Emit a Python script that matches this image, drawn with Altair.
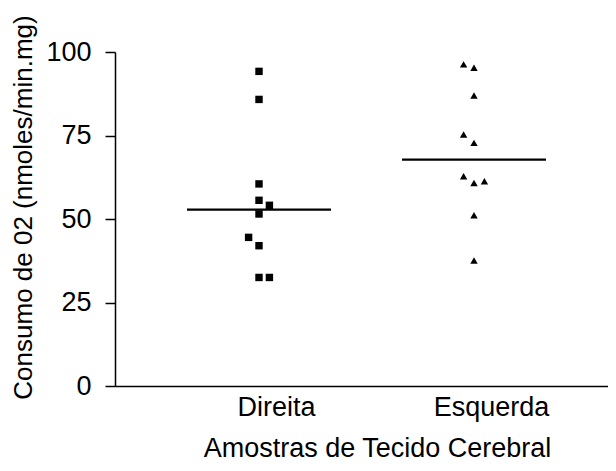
import altair as alt
import pandas as pd

# Data
direita = [94.2, 85.8, 60.5, 55.6, 54.1, 51.5, 44.5, 42.0, 32.5, 32.5]
direita_slot = [0, 0, 0, 0, 1, 0, -1, 0, 0, 1]
esquerda = [96.3, 95.3, 87.0, 75.3, 72.8, 62.8, 60.8, 61.3, 51.1, 37.6]
esquerda_slot = [-1, 0, 0, -1, 0, -1, 0, 1, 0, 0]
grupos = ["Direita", "Esquerda"]
y_ticks = [0, 25, 50, 75, 100]

df = pd.DataFrame({
    "grupo": [grupos[0]] * len(direita) + [grupos[1]] * len(esquerda),
    "valor": direita + esquerda,
    "slot": direita_slot + esquerda_slot,
})

FONT = "Liberation Sans"

x_enc = alt.X(
    "grupo:N",
    sort=grupos,
    scale=alt.Scale(type="point", padding=0.6465, align=0.518),
    axis=alt.Axis(
        title="Amostras de Tecido Cerebral",
        ticks=False,
        tickSize=0,
        labelOffset=17,
        labelPadding=8,
        labelFontSize=27,
        titleFontSize=27,
        titleBaseline="alphabetic",
        titleAlign="center",
        titleX=262,
        titleY=70,
        labelAngle=0,
    ),
)

y_enc = alt.Y(
    "valor:Q",
    scale=alt.Scale(domain=[0, 100], nice=False, zero=True),
    axis=alt.Axis(
        title="Consumo de 02 (nmoles/min.mg)",
        values=y_ticks,
        tickSize=10,
        labelPadding=14,
        labelFontSize=27,
        titleFontSize=26,
        titleAngle=270,
        titleBaseline="alphabetic",
        titleAlign="center",
        titleX=-84,
        titleY=155,
        grid=False,
    ),
)

base = alt.Chart(df)

points = base.mark_point(filled=True, size=55, opacity=1, color="black").encode(
    x=x_enc,
    xOffset=alt.XOffset("slot:Q", scale=alt.Scale(domain=[-1, 1], range=[-10.4, 10.4])),
    y=y_enc,
    shape=alt.Shape(
        "grupo:N",
        scale=alt.Scale(domain=grupos, range=["square", "triangle-up"]),
        legend=None,
    ),
)

medians = base.mark_tick(color="black", thickness=2.2, size=144, opacity=1).encode(
    x=x_enc,
    y=alt.Y("median(valor):Q"),
)

chart = (
    alt.layer(points, medians)
    .properties(
        width=493,
        height=334,
        autosize=alt.AutoSizeParams(type="none"),
        padding={"left": 107, "top": 44, "right": 0, "bottom": 77},
    )
    .configure_view(stroke=None)
    .configure_axis(
        domainColor="black",
        domainWidth=1.5,
        tickColor="black",
        tickWidth=1.5,
        labelColor="black",
        titleColor="black",
        labelFont=FONT,
        titleFont=FONT,
        titleFontWeight="normal",
    )
)

chart.save("out.html", embed_options={"renderer": "svg", "actions": False})
